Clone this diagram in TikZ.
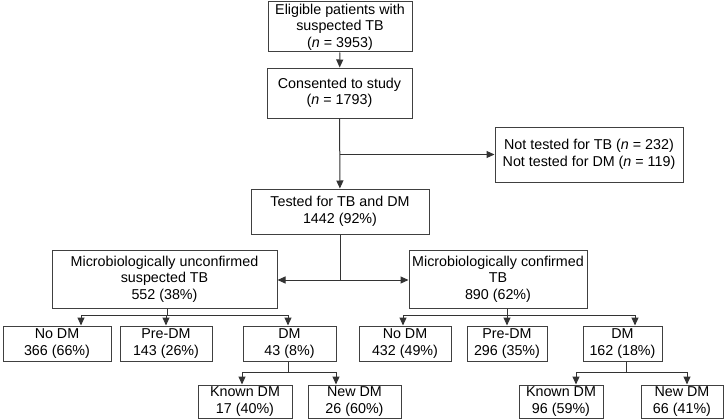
\documentclass[tikz,border=0pt]{standalone}
\usepackage{fontspec}
\setmainfont{Liberation Sans}
\usetikzlibrary{arrows.meta,positioning,calc}

\begin{document}
\begin{tikzpicture}[x=1pt,y=-1pt,
    box/.style={draw=black!75,line width=1pt,align=center,inner sep=1pt,
      font=\fontsize{14.3}{16.5}\selectfont},
    line/.style={draw=black!80,line width=1pt},
    arr/.style={line,-{Triangle[length=8pt,width=7pt]}}]

\useasboundingbox (0,0) rectangle (725,420);

% ---- top of the flow ----
\node[box,minimum width=144,minimum height=50] (elig) at (340,27)
   {Eligible patients with\\suspected TB\\(\textit{n} = 3953)};
\node[box,minimum width=145,minimum height=50] (cons) at (339.5,93)
   {Consented to study\\(\textit{n} = 1793)};
\node[box,minimum width=188,minimum height=55] (nottest) at (589,154.5)
   {Not tested for TB (\textit{n} = 232)\\Not tested for DM (\textit{n} = 119)};
\node[box,minimum width=178,minimum height=45] (tested) at (340,211.5)
   {Tested for TB and DM\\1442 (92\%)};

% ---- TB groups ----
\node[box,minimum width=225,minimum height=58] (unconf) at (164.5,279)
   {Microbiologically unconfirmed\\suspected TB\\552 (38\%)};
\node[box,minimum width=178,minimum height=58] (conf) at (498,279)
   {Microbiologically confirmed\\TB\\890 (62\%)};

% ---- DM status ----
\node[box,minimum width=108,minimum height=35] (uno) at (57,343.5) {No DM\\366 (66\%)};
\node[box,minimum width=92,minimum height=35] (upre) at (166,343.5) {Pre-DM\\143 (26\%)};
\node[box,minimum width=93,minimum height=35] (udm) at (289.5,343.5) {DM\\43 (8\%)};
\node[box,minimum width=92,minimum height=35] (cno) at (405,343.5) {No DM\\432 (49\%)};
\node[box,minimum width=80,minimum height=35] (cpre) at (507,343.5) {Pre-DM\\296 (35\%)};
\node[box,minimum width=79,minimum height=35] (cdm) at (622.5,343.5) {DM\\162 (18\%)};

% ---- known / new DM ----
\node[box,minimum width=94,minimum height=33] (uknown) at (245,401.5) {Known DM\\17 (40\%)};
\node[box,minimum width=93,minimum height=33] (unew) at (354.5,401.5) {New DM\\26 (60\%)};
\node[box,minimum width=84,minimum height=33] (cknown) at (561,401.5) {Known DM\\96 (59\%)};
\node[box,minimum width=82,minimum height=33] (cnew) at (682,401.5) {New DM\\66 (41\%)};

% ---- connectors ----
\draw[arr] (elig) -- (cons);
\draw[arr] (cons) -- (tested);
\coordinate (split1) at (cons.south |- nottest.west);
\draw[arr] (split1) -- (nottest.west);

\coordinate (split2) at ($(tested.south |- unconf.east)+(0,1)$);
\draw[line] (tested.south) -- (split2);
\draw[arr] (split2) -- (split2 -| unconf.east);
\draw[arr] (split2) -- (split2 -| conf.west);

\coordinate (ubus) at ($(unconf.south)+(2.5,7)$);
\draw[line] ([xshift=2.5]unconf.south) -- (ubus);
\draw[arr] (ubus) -| ([xshift=24]uno.north);
\draw[arr] (ubus) -| (upre.north);
\draw[arr] (ubus) -| ([xshift=-1.5]udm.north);

\coordinate (cbus) at ($(conf.south)+(9,7)$);
\draw[line] ([xshift=9]conf.south) -- (cbus);
\draw[arr] (cbus) -| ([xshift=-2]cno.north);
\draw[arr] (cbus) -| (cpre.north);
\draw[arr] (cbus) -| ([xshift=12.5]cdm.north);

\coordinate (udmbus) at ($(udm.south)+(-1.5,11)$);
\draw[line] ([xshift=-1.5]udm.south) -- (udmbus);
\draw[arr] (udmbus) -| ([xshift=-3]uknown.north);
\draw[arr] (udmbus) -| ([xshift=-18.5]unew.north);

\coordinate (cdmbus) at ($(cdm.south)+(3.5,11)$);
\draw[line] ([xshift=3.5]cdm.south) -- (cdmbus);
\draw[arr] (cdmbus) -| ([xshift=15]cknown.north);
\draw[arr] (cdmbus) -| ([xshift=5]cnew.north);

\end{tikzpicture}
\end{document}
